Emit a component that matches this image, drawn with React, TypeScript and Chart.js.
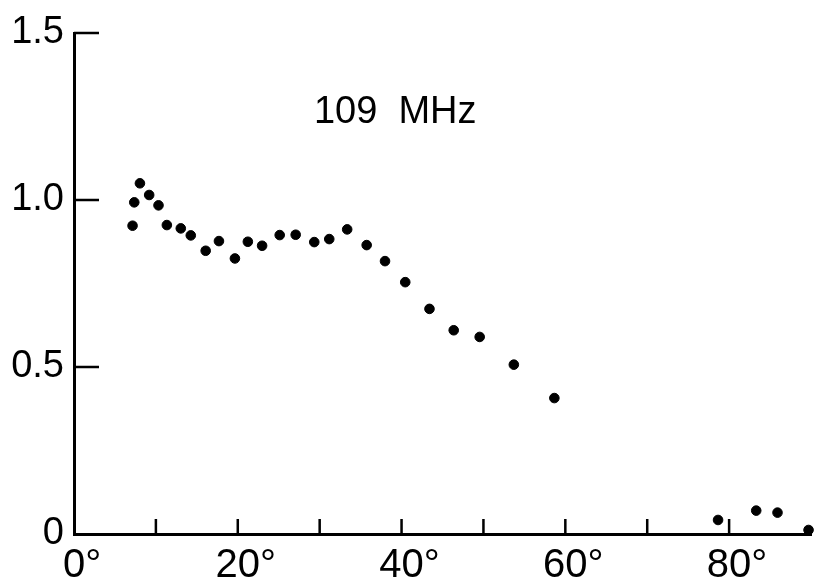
import React, { useEffect, useRef } from "react";
import { Chart, registerables } from "chart.js";

Chart.register(...registerables);

const angles = [7.15, 7.36, 8.05, 9.18, 10.32, 11.34, 13.04, 14.26, 16.08, 17.7, 19.65, 21.23, 22.97, 25.12, 27.07, 29.34, 31.17, 33.36, 35.74, 37.98, 40.45, 43.41, 46.37, 49.54, 53.71, 58.66, 78.65, 83.31, 85.91, 89.7];
const values = [0.923, 0.993, 1.05, 1.015, 0.984, 0.925, 0.915, 0.894, 0.848, 0.877, 0.825, 0.875, 0.863, 0.895, 0.896, 0.874, 0.883, 0.912, 0.865, 0.817, 0.754, 0.674, 0.61, 0.59, 0.507, 0.407, 0.042, 0.07, 0.064, 0.012];
const xTickValues = [10, 20, 30, 40, 50, 60, 70, 80];
const xLabelValues = [0, 20, 40, 60, 80];
const yTickValues = [0.5, 1.0, 1.5];
const titleText = "109  MHz";
const titlePos = { x: 29.3, y: 1.262 };

const FONT = "Liberation Sans, Arial, sans-serif";

export default function App() {
  const ref = useRef<HTMLCanvasElement | null>(null);
  useEffect(() => {
    if (!ref.current) return;
    const innerTicks = {
      id: "innerTicks",
      afterDraw(chart: any) {
        const ctx = chart.ctx;
        const xs = chart.scales.x;
        const ys = chart.scales.y;
        const area = chart.chartArea;
        ctx.save();
        ctx.strokeStyle = "#000";
        ctx.lineWidth = 2.5;
        ctx.beginPath();
        for (const v of xTickValues) {
          const px = xs.getPixelForValue(v);
          ctx.moveTo(px, area.bottom);
          ctx.lineTo(px, area.bottom - 15);
        }
        for (const v of yTickValues) {
          const py = ys.getPixelForValue(v);
          ctx.moveTo(area.left, py);
          ctx.lineTo(area.left + 25, py);
        }
        ctx.stroke();
        ctx.fillStyle = "#000";
        ctx.font = `38px ${FONT}`;
        ctx.textAlign = "left";
        ctx.textBaseline = "middle";
        ctx.fillText(titleText, xs.getPixelForValue(titlePos.x), ys.getPixelForValue(titlePos.y));
        ctx.restore();
      },
    };
    const chart = new Chart(ref.current, {
      type: "scatter",
      data: {
        datasets: [
          {
            data: angles.map((a, i) => ({ x: a, y: values[i] })),
            backgroundColor: "#000",
            borderColor: "#000",
            pointRadius: 4.8,
            pointHoverRadius: 4.8,
            showLine: false,
            clip: false,
          },
        ],
      },
      options: {
        animation: false,
        responsive: false,
        devicePixelRatio: 1,
        layout: { padding: { top: 33, right: 5, left: 0, bottom: 0 } },
        plugins: { legend: { display: false }, tooltip: { enabled: false }, title: { display: false } },
        scales: {
          x: {
            type: "linear",
            min: 0,
            max: 90,
            grid: { display: false, drawTicks: false },
            border: { display: true, color: "#000", width: 3 },
            afterFit: (s: any) => { s.height = 52; },
            ticks: {
              stepSize: 10,
              autoSkip: false,
              maxRotation: 0,
              padding: 8,
              labelOffset: 8,
              color: "#000",
              font: { family: FONT, size: 40 },
              callback: (v: any) => (xLabelValues.includes(Number(v)) ? `${v}°` : ""),
            },
          },
          y: {
            type: "linear",
            min: 0,
            max: 1.5,
            grid: { display: false, drawTicks: false },
            border: { display: true, color: "#000", width: 3 },
            afterFit: (s: any) => { s.width = 74; },
            ticks: {
              stepSize: 0.5,
              padding: 10,
              color: "#000",
              font: { family: FONT, size: 38 },
              callback: (v: any) => (Number(v) === 0 ? "0" : Number(v).toFixed(1)),
            },
          },
        },
      },
      plugins: [innerTicks],
    });
    return () => chart.destroy();
  }, []);
  return (
    <div style={{ position: "absolute", left: 0, top: 0, width: 819, height: 586, background: "#fff" }}>
      <canvas ref={ref} width={819} height={586} />
    </div>
  );
}
